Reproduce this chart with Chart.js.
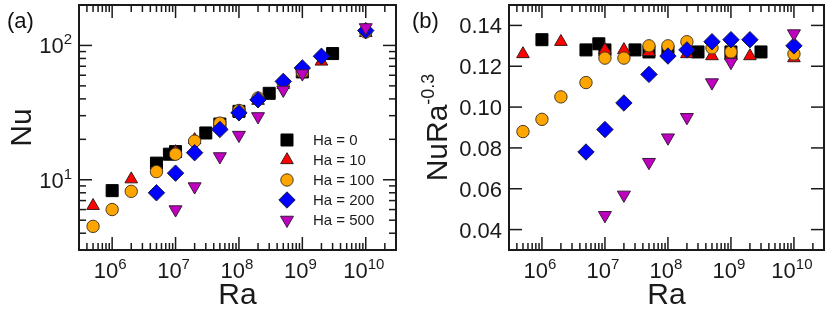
<!DOCTYPE html>
<html>
<head>
<meta charset="utf-8">
<script src="https://cdn.jsdelivr.net/npm/chart.js@4/dist/chart.umd.min.js"></script>
<style>
  html, body { margin: 0; padding: 0; background: #fff; }
  #wrap { position: relative; width: 830px; height: 316px; overflow: hidden; font-family: 'Liberation Sans', Arial, sans-serif; }
  canvas { position: absolute; top: 0; }
  #chartA { left: 0; }
  #chartB { left: 415px; }
  .panel { position: absolute; font-size: 22px; line-height: 24px; color: #111; }
</style>
</head>
<body>
<div id="wrap">
  <canvas id="chartA" width="415" height="316"></canvas>
  <canvas id="chartB" width="415" height="316"></canvas>
  <div class="panel" style="left:7px; top:9px;">(a)</div>
  <div class="panel" style="left:412px; top:9px;">(b)</div>
</div>
<script>
// series labels
const haLabels = ['Ha = 0', 'Ha = 10', 'Ha = 100', 'Ha = 200', 'Ha = 500'];

// Ra values of each series
const raHa0   = [1e6, 5e6, 8e6, 1e7, 3e7, 5e7, 1e8, 3e8, 1e9, 3e9];
const raHa10  = [5e5, 2e6, 1e7, 2e7, 5e7, 1e8, 2e8, 5e8, 1e9, 2e9, 1e10];
const raHa100 = [5e5, 1e6, 2e6, 5e6, 1e7, 2e7, 5e7, 1e8, 2e8, 5e8, 1e9, 1e10];
const raHa200 = [5e6, 1e7, 2e7, 5e7, 1e8, 2e8, 5e8, 1e9, 2e9, 1e10];
const raHa500 = [1e7, 2e7, 5e7, 1e8, 2e8, 5e8, 1e9, 1e10];

// panel (a): Nu
const nuHa0   = [8.3, 13.3, 15.5, 16.2, 22.3, 26.0, 32.3, 44.0, 63.5, 87.0];
const nuHa10  = [6.4, 10.1, 16.1, 19.8, 25.8, 31.6, 38.8, 50.9, 62.6, 76.0, 124];
const nuHa100 = [4.5, 6.0, 8.2, 11.5, 15.5, 19.4, 26.4, 32.8, 40.6, 52.5, 63.5, 126];
const nuHa200 = [8.0, 11.2, 15.9, 23.7, 31.5, 39.4, 54.0, 68.0, 83.0, 129];
const nuHa500 = [6.0, 8.9, 14.9, 21.5, 29.6, 46.6, 61.7, 136];

// panel (b): Nu Ra^-0.3
const scHa0   = [0.133, 0.128, 0.131, 0.128, 0.128, 0.127, 0.127, 0.127, 0.127, 0.127];
const scHa10  = [0.126, 0.132, 0.128, 0.128, 0.127, 0.126, 0.126, 0.125, 0.125, 0.125, 0.124];
const scHa100 = [0.088, 0.094, 0.105, 0.112, 0.124, 0.124, 0.130, 0.130, 0.132, 0.129, 0.127, 0.126];
const scHa200 = [0.078, 0.089, 0.102, 0.116, 0.125, 0.128, 0.132, 0.133, 0.133, 0.130];
const scHa500 = [0.047, 0.057, 0.073, 0.085, 0.095, 0.112, 0.122, 0.136];

// tick labels
const raTicks = [1e6, 1e7, 1e8, 1e9, 1e10];
const raTickExp = ['6', '7', '8', '9', '10'];
const nuTicks = [10, 100];
const nuTickExp = ['1', '2'];
const scTicks = [0.04, 0.06, 0.08, 0.10, 0.12, 0.14];
const scTickLabels = ['0.04', '0.06', '0.08', '0.10', '0.12', '0.14'];

const FONT = "'Liberation Sans', Arial, sans-serif";

const markers = [
  { style: 'rect',     rotation: 0,   radius: 8.5, fill: '#000000', edge: '#000000' },
  { style: 'triangle', rotation: 0,   radius: 7.3, fill: '#ff0000', edge: '#3a1a1a' },
  { style: 'circle',   rotation: 0,   radius: 6.2, fill: '#ffa500', edge: '#4a3a20' },
  { style: 'rectRot',  rotation: 0,   radius: 8.2, fill: '#0000ff', edge: '#1a1a3a' },
  { style: 'triangle', rotation: 180, radius: 7.5, fill: '#c000c0', edge: '#3a1a3a' }
];

function makeDatasets(raList, yList) {
  return raList.map((ra, i) => ({
    label: haLabels[i],
    data: ra.map((x, j) => ({ x: x, y: yList[i][j] })),
    pointStyle: markers[i].style,
    rotation: markers[i].rotation,
    pointRadius: markers[i].radius,
    pointHoverRadius: markers[i].radius,
    backgroundColor: markers[i].fill,
    borderColor: markers[i].edge,
    borderWidth: 1,
    order: raList.length - i
  }));
}

function logMarks(min, max) {
  const out = [];
  for (let e = Math.floor(Math.log10(min)); e <= Math.ceil(Math.log10(max)); e++) {
    for (let m = 1; m < 10; m++) {
      const v = m * Math.pow(10, e);
      if (v > min && v < max) out.push({ v: v, major: m === 1 });
    }
  }
  return out;
}

// "10" with a raised exponent
function powerLabel(ctx, exp, x, y, align) {
  const big = '22px ' + FONT, small = '15px ' + FONT;
  ctx.font = big;
  const wb = ctx.measureText('10').width;
  ctx.font = small;
  const ws = ctx.measureText(exp).width;
  let x0 = x;
  if (align === 'center') x0 = x - (wb + ws) / 2;
  if (align === 'right') x0 = x - (wb + ws);
  ctx.textAlign = 'left';
  ctx.font = big;
  ctx.fillText('10', x0, y);
  ctx.font = small;
  ctx.fillText(exp, x0 + wb, y - 9);
}

const axesFrame = {
  id: 'axesFrame',
  afterDraw(chart, args, o) {
    const { ctx, chartArea: a, scales: { x, y } } = chart;
    ctx.save();
    ctx.strokeStyle = '#1a1a1a';
    ctx.fillStyle = '#1a1a1a';
    ctx.lineWidth = 1.5;
    const seg = (x1, y1, x2, y2) => { ctx.beginPath(); ctx.moveTo(x1, y1); ctx.lineTo(x2, y2); ctx.stroke(); };

    logMarks(x.min, x.max).forEach(t => {
      const px = x.getPixelForValue(t.v);
      const len = t.major ? 13 : 7;
      seg(px, a.bottom, px, a.bottom - len);
      seg(px, a.top, px, a.top + len);
    });
    const yMarks = o.yLog ? logMarks(y.min, y.max) : scTicks.map(v => ({ v: v, major: true }));
    yMarks.forEach(t => {
      const py = y.getPixelForValue(t.v);
      const len = t.major ? 13 : 7;
      seg(a.left, py, a.left + len, py);
      seg(a.right, py, a.right - len, py);
    });
    ctx.lineWidth = 2;
    ctx.strokeRect(a.left, a.top, a.width, a.height);

    // tick labels
    ctx.textBaseline = 'alphabetic';
    raTicks.forEach((v, i) => powerLabel(ctx, raTickExp[i], x.getPixelForValue(v) - 2, 278, 'center'));
    if (o.yLog) {
      nuTicks.forEach((v, i) => powerLabel(ctx, nuTickExp[i], a.left - 7, y.getPixelForValue(v) + 8, 'right'));
    } else {
      ctx.font = '22px ' + FONT;
      ctx.textAlign = 'right';
      scTicks.forEach((v, i) => ctx.fillText(scTickLabels[i], a.left - 7, y.getPixelForValue(v) + 8));
    }

    // axis titles
    ctx.font = '30px ' + FONT;
    ctx.textAlign = 'center';
    ctx.fillText('Ra', (a.left + a.right) / 2, 304);
    ctx.save();
    ctx.translate(o.yTitleX, (a.top + a.bottom) / 2);
    ctx.rotate(-Math.PI / 2);
    ctx.font = '30px ' + FONT;
    const wb = ctx.measureText(o.yTitle).width;
    let ws = 0;
    if (o.yTitleSup) { ctx.font = '18px ' + FONT; ws = ctx.measureText(o.yTitleSup).width; }
    ctx.textAlign = 'left';
    ctx.font = '30px ' + FONT;
    ctx.fillText(o.yTitle, -(wb + ws) / 2, 0);
    if (o.yTitleSup) {
      ctx.font = '18px ' + FONT;
      ctx.fillText(o.yTitleSup, -(wb + ws) / 2 + wb, -13);
    }
    ctx.restore();

    // legend inside the plot area
    if (o.legend) {
      chart.data.datasets.forEach((ds, i) => {
        const lx = a.left + 208, ly = a.top + 135 + i * 20;
        ctx.fillStyle = ds.backgroundColor;
        ctx.strokeStyle = ds.borderColor;
        ctx.lineWidth = 1;
        Chart.helpers.drawPoint(ctx, { pointStyle: ds.pointStyle, rotation: ds.rotation, radius: ds.pointRadius, borderWidth: 1 }, lx, ly);
        ctx.fillStyle = '#1a1a1a';
        ctx.font = '15px ' + FONT;
        ctx.textAlign = 'left';
        ctx.fillText(ds.label, lx + 26, ly + 5);
      });
    }
    ctx.restore();
  }
};

function baseOptions(yScale, padRight, yWidth, frameOpts) {
  return {
    responsive: false,
    animation: false,
    layout: { padding: { left: 0, top: 5, right: padRight, bottom: 0 }, autoPadding: false },
    plugins: { legend: { display: false }, tooltip: { enabled: false }, axesFrame: frameOpts },
    scales: {
      x: {
        type: 'logarithmic', min: 3e5, max: 3e10,
        grid: { display: false }, border: { display: false }, ticks: { display: false },
        afterFit: s => { s.height = 66; }
      },
      y: Object.assign({
        grid: { display: false }, border: { display: false }, ticks: { display: false },
        afterFit: s => { s.width = yWidth; }
      }, yScale)
    }
  };
}

new Chart(document.getElementById('chartA'), {
  type: 'scatter',
  data: { datasets: makeDatasets([raHa0, raHa10, raHa100, raHa200, raHa500], [nuHa0, nuHa10, nuHa100, nuHa200, nuHa500]) },
  options: baseOptions({ type: 'logarithmic', min: 3, max: 200 }, 19, 79,
    { yLog: true, yTitle: 'Nu', yTitleX: 31, legend: true }),
  plugins: [axesFrame]
});

new Chart(document.getElementById('chartB'), {
  type: 'scatter',
  data: { datasets: makeDatasets([raHa0, raHa10, raHa100, raHa200, raHa500], [scHa0, scHa10, scHa100, scHa200, scHa500]) },
  options: baseOptions({ type: 'linear', min: 0.03, max: 0.15 }, 6, 94,
    { yLog: false, yTitle: 'NuRa', yTitleSup: '-0.3', yTitleX: 32, legend: false }),
  plugins: [axesFrame]
});
</script>
</body>
</html>
